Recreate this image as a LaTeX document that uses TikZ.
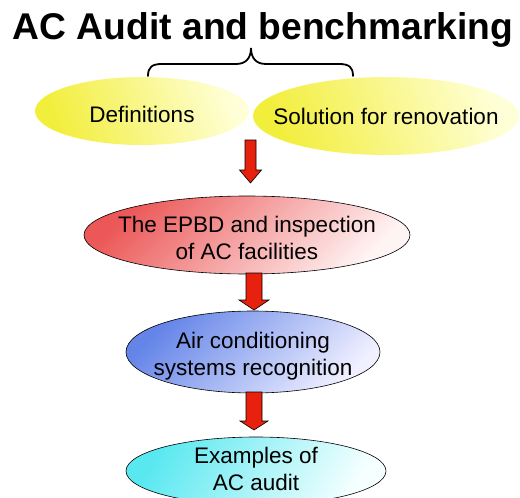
\documentclass[tikz,border=0pt]{standalone}
\usepackage{fontspec}
\setmainfont{Liberation Sans}
\usetikzlibrary{shapes.geometric,calc}
\definecolor{yelA}{RGB}{242,238,60}
\definecolor{yelB}{RGB}{255,255,215}
\definecolor{redA}{RGB}{236,88,88}
\definecolor{redB}{RGB}{255,244,244}
\definecolor{bluA}{RGB}{100,132,232}
\definecolor{bluB}{RGB}{240,240,255}
\definecolor{cyaA}{RGB}{90,232,240}
\definecolor{cyaB}{RGB}{246,255,255}
\definecolor{arrred}{RGB}{232,32,14}
\tikzset{
  bubble/.style={ellipse, inner sep=0pt, outer sep=0pt},
  bubtext/.style={inner sep=0pt, align=center, font=\fontsize{22.5}{27}\selectfont},
  yelshade/.style={top color=yelA, bottom color=yelB, shading angle=110},
  redshade/.style={top color=redA, bottom color=redB, shading angle=45, draw=black, line width=0.6pt},
  blushade/.style={top color=bluA, bottom color=bluB, shading angle=45, draw=black, line width=0.6pt},
  cyashade/.style={top color=cyaA, bottom color=cyaB, shading angle=60, draw=black, line width=0.6pt},
  fatarrow/.style={fill=arrred, draw=black, line width=0.6pt, line join=miter},
  bracestyle/.style={draw=black, line width=1.8pt, line cap=round}
}
% #1 shaft half-width, #2 head half-width, #3 head length, #4 start, #5 tip
\newcommand\fatarrow[5]{\draw[fatarrow] let \p1=(#4), \p2=(#5) in
  (\x1-#1pt,\y1) -- (\x1+#1pt,\y1) -- (\x1+#1pt,\y2+#3pt) -- (\x1+#2pt,\y2+#3pt)
  -- (\x1,\y2) -- (\x1-#2pt,\y2+#3pt) -- (\x1-#1pt,\y2+#3pt) -- cycle;}
\begin{document}
\begin{tikzpicture}[x=1pt,y=-1pt]
\useasboundingbox (0,0) rectangle (520,498);
\node[anchor=base, inner sep=0pt, font=\fontsize{37.2}{40}\selectfont\bfseries] (title) at (263,39) {AC Audit and benchmarking};
\draw[bracestyle] (148,76) .. controls (148,67) and (152,64) .. (162,64) -- (236,64)
  .. controls (246,64) and (251,58) .. (251,48)
  .. controls (251,58) and (256,64) .. (266,64) -- (339,64)
  .. controls (349,64) and (353,67) .. (353,76);
\node[bubble, yelshade, minimum width=214pt, minimum height=68pt,
  label={[bubtext, yshift=-3.5pt]center:Definitions}] (def) at (142,111) {};
\node[bubble, yelshade, minimum width=266pt, minimum height=78pt,
  label={[bubtext]center:Solution for renovation}] (sol) at (386,116) {};
\coordinate (start) at (250.5,140);
\node[bubble, redshade, minimum width=326pt, minimum height=78pt,
  label={[bubtext, yshift=-2.5pt]center:The EPBD and inspection\\of AC facilities}] (epbd) at (247,235) {};
\node[bubble, blushade, minimum width=254pt, minimum height=82pt,
  label={[bubtext, yshift=-4pt]center:Air conditioning\\systems recognition}] (acs) at (253,352) {};
\node[bubble, cyashade, minimum width=260pt, minimum height=68pt,
  label={[bubtext, yshift=2.5pt]center:Examples of\\AC audit}] (ex) at (256,471) {};
\fatarrow{5.5}{11}{13}{start}{$(epbd.north)+(0,-13)$}
\fatarrow{8}{15}{10}{$(epbd.south)+(7,-1)$}{$(acs.north)+(0,-1)$}
\fatarrow{8}{14}{9}{$(acs.south)+(1,-1)$}{$(ex.north)+(0,-7)$}
\end{tikzpicture}
\end{document}
